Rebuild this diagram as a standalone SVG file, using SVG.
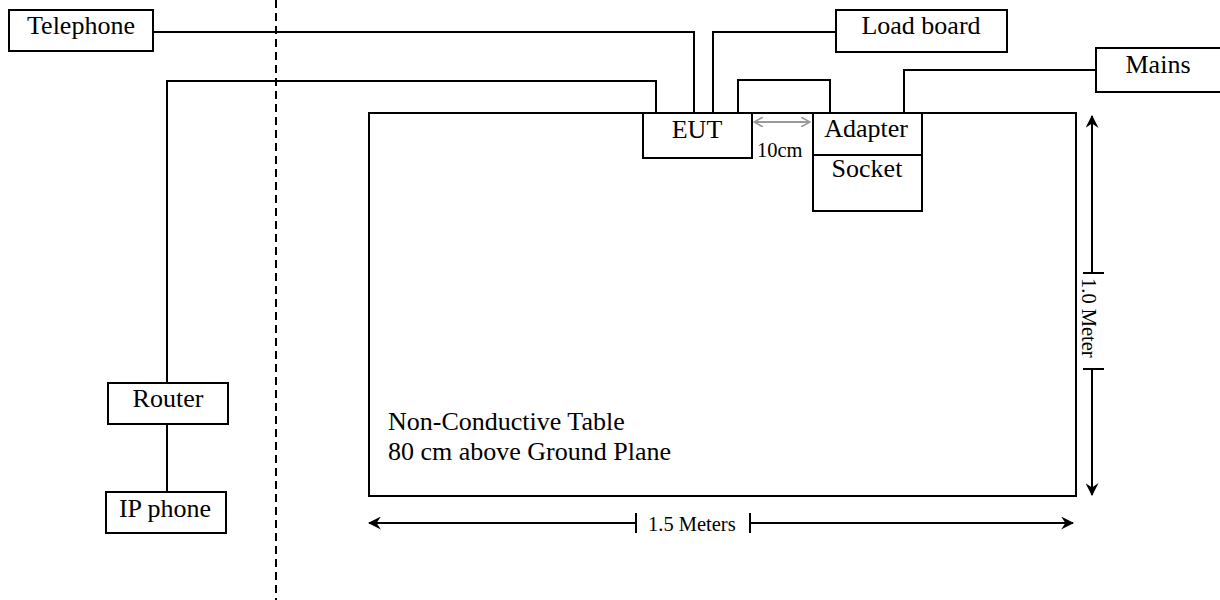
<svg xmlns="http://www.w3.org/2000/svg" width="1220" height="600" viewBox="0 0 1220 600">
<style>
.box{fill:#fff;stroke:#000;stroke-width:2}
.ln{fill:none;stroke:#000;stroke-width:2}
.t{font-family:"Liberation Serif","Times New Roman",serif;fill:#000}
.lbl{font-size:26px;text-anchor:middle}
.sm{font-size:20.5px}
</style>
<defs>
<marker id="ah" viewBox="0 0 12 12" refX="11" refY="6" markerWidth="13" markerHeight="13" markerUnits="userSpaceOnUse" orient="auto-start-reverse">
<path d="M0,0 L12,6 L0,12 L4,6 Z" fill="#000"/>
</marker>
<marker id="ag" viewBox="0 0 10 10" refX="9" refY="5" markerWidth="10" markerHeight="10" markerUnits="userSpaceOnUse" orient="auto-start-reverse">
<path d="M0,0 L9,5 L0,10" fill="none" stroke="#999" stroke-width="1.6"/>
</marker>
</defs>
<rect width="1220" height="600" fill="#fff"/>
<line x1="276" y1="0" x2="276" y2="600" stroke="#000" stroke-width="2" stroke-dasharray="8,5"/>
<g id="table">
<rect class="box" x="369" y="113" width="707" height="383"/>
<text class="t" x="388" y="430" font-size="26">Non-Conductive Table</text>
<text class="t" x="388" y="460" font-size="26">80 cm above Ground Plane</text>
</g>
<g id="connectors">
<polyline class="ln" points="153,32 694,32 694,113"/>
<polyline class="ln" points="836,32 713,32 713,113"/>
<polyline class="ln" points="167,383 167,81 656,81 656,113"/>
<polyline class="ln" points="738,113 738,80 830,80 830,113"/>
<polyline class="ln" points="904,113 904,70 1096,70"/>
<line class="ln" x1="167" y1="424" x2="167" y2="492"/>
<line x1="754" y1="122" x2="810" y2="122" stroke="#999" stroke-width="2" marker-start="url(#ag)" marker-end="url(#ag)"/>
</g>
<g id="telephone"><rect class="box" x="9" y="10" width="144" height="41"/><text class="t lbl" x="81" y="34">Telephone</text></g>
<g id="loadboard"><rect class="box" x="836" y="10" width="171" height="42"/><text class="t lbl" x="921" y="34">Load board</text></g>
<g id="mains"><rect class="box" x="1096" y="48" width="130" height="44"/><text class="t lbl" x="1158" y="73">Mains</text></g>
<g id="eut"><rect class="box" x="643" y="113" width="109" height="45"/><text class="t lbl" x="697" y="138">EUT</text></g>
<g id="adapter"><rect class="box" x="813" y="113" width="109" height="42"/><text class="t lbl" x="866" y="137">Adapter</text></g>
<g id="socket"><rect class="box" x="813" y="155" width="109" height="56"/><text class="t lbl" x="867" y="177">Socket</text></g>
<g id="router"><rect class="box" x="108" y="383" width="120" height="41"/><text class="t lbl" x="168" y="407">Router</text></g>
<g id="ipphone"><rect class="box" x="106" y="492" width="120" height="41"/><text class="t lbl" x="165" y="517">IP phone</text></g>
<text class="t sm" x="757" y="157">10cm</text>
<g id="dim-vertical">
<line class="ln" x1="1092" y1="273" x2="1092" y2="116" marker-end="url(#ah)"/>
<line class="ln" x1="1092" y1="369" x2="1092" y2="495" marker-end="url(#ah)"/>
<line class="ln" x1="1083" y1="273" x2="1104" y2="273"/>
<line class="ln" x1="1083" y1="369" x2="1104" y2="369"/>
<text class="t sm" transform="translate(1082,278) rotate(90)">1.0 Meter</text>
</g>
<g id="dim-horizontal">
<line class="ln" x1="636" y1="523" x2="369" y2="523" marker-end="url(#ah)"/>
<line class="ln" x1="750" y1="523" x2="1073" y2="523" marker-end="url(#ah)"/>
<line class="ln" x1="636" y1="513" x2="636" y2="533"/>
<line class="ln" x1="750" y1="513" x2="750" y2="533"/>
<text class="t sm" x="648" y="531">1.5 Meters</text>
</g>
</svg>
